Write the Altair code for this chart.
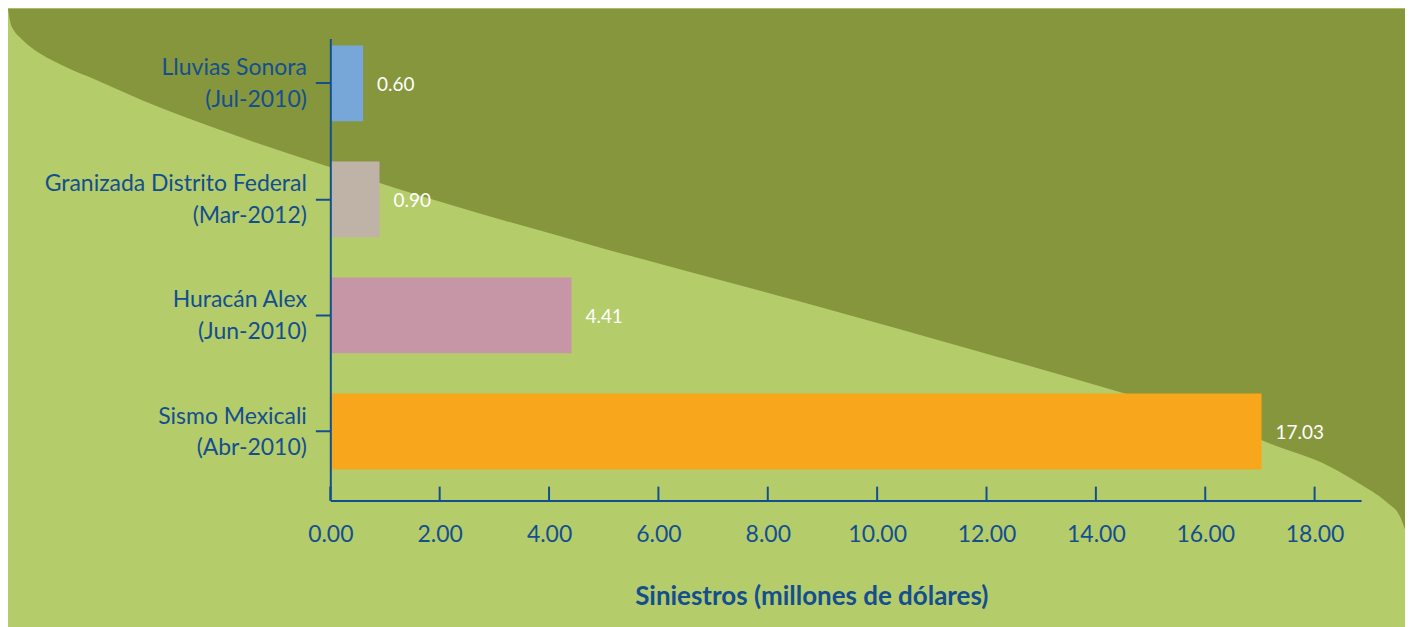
import altair as alt
import pandas as pd

# ---- data ----
eventos = ["Lluvias Sonora", "Granizada Distrito Federal", "Huracán Alex", "Sismo Mexicali"]
fechas = ["(Jul-2010)", "(Mar-2012)", "(Jun-2010)", "(Abr-2010)"]
siniestros = [0.60, 0.90, 4.41, 17.03]
colores = ["#77a6d9", "#bfb2a6", "#c796a6", "#f8a61c"]
x_ticks = [0, 2, 4, 6, 8, 10, 12, 14, 16, 18]

# decorative background shape (fractions of the panel: left->right, top->bottom)
fondo_x = [0.0, 0.0014, 0.0043, 0.0086, 0.0157, 0.0229, 0.0421, 0.0607, 0.0964, 0.1586,
           0.2307, 0.28, 0.4229, 0.5657, 0.7086, 0.8, 0.8514, 0.9036, 0.9464, 0.9707,
           0.9871, 0.9964, 1.0]
fondo_y = [0.0, 0.0194, 0.0355, 0.0468, 0.0614, 0.0727, 0.0953, 0.1131, 0.1486, 0.2019,
           0.2569, 0.2924, 0.3861, 0.4733, 0.5638, 0.6236, 0.6575, 0.7044, 0.7415, 0.7738,
           0.7997, 0.8223, 0.8433]

AZUL = "#134f8f"
VERDE_CLARO = "#b5cc6b"
VERDE_OSCURO = "#86963d"
FUENTE = "Lato"

W, H = 1033, 463
PAD_L, PAD_T, PAD_R, PAD_B = 323, 30, 44, 126

etiquetas = [f"{e}|{f}" for e, f in zip(eventos, fechas)]
df = pd.DataFrame({"etiqueta": etiquetas, "valor": siniestros})
df_ticks = pd.DataFrame({"t": x_ticks})
df_fondo = pd.DataFrame({"fx": fondo_x, "fy": fondo_y, "top": [0.0] * len(fondo_x)})

xscale = alt.Scale(domain=[0, 18.85], nice=False, zero=True)
yscale = alt.Scale(domain=etiquetas, paddingInner=0.347, paddingOuter=0.164, align=0.18)

fondo = alt.Chart(df_fondo).mark_area(color=VERDE_OSCURO, interpolate="monotone").encode(
    x=alt.X("fx:Q", scale=alt.Scale(domain=[0, 1], range=[-PAD_L, W + PAD_R], nice=False, zero=False), axis=None),
    y=alt.Y("fy:Q", scale=alt.Scale(domain=[0, 1], range=[-PAD_T, H + PAD_B], nice=False, zero=False), axis=None),
    y2="top:Q",
)

barras = alt.Chart(df).mark_bar().encode(
    y=alt.Y("etiqueta:N", sort=etiquetas, scale=yscale,
            axis=alt.Axis(title=None, labelExpr="split(datum.label, '|')",
                          labelFont=FUENTE, labelFontSize=23, labelLineHeight=32,
                          labelColor=AZUL, labelLimit=500, labelPadding=9, labelOffset=-15,
                          tickSize=15, tickColor=AZUL, tickWidth=2,
                          domainColor=AZUL, domainWidth=2, zindex=1)),
    x=alt.X("valor:Q", scale=xscale,
            axis=alt.Axis(values=x_ticks, format=".2f", labelFont=FUENTE, labelFontSize=23,
                          labelColor=AZUL, labelPadding=23, labelFlush=False,
                          ticks=False, grid=False, domainColor=AZUL, domainWidth=2,
                          title="Siniestros (millones de dólares)", titleFont=FUENTE,
                          titleFontSize=26, titleFontWeight="bold", titleColor=AZUL,
                          titleX=482, titleY=96, titleAlign="center", titleBaseline="middle",
                          zindex=1)),
    color=alt.Color("etiqueta:N", scale=alt.Scale(domain=etiquetas, range=colores), legend=None),
)

textos = alt.Chart(df).mark_text(align="left", baseline="middle", dx=14, dy=2,
                                 color="white", font=FUENTE, fontSize=19).encode(
    y=alt.Y("etiqueta:N", sort=etiquetas, scale=yscale),
    x=alt.X("valor:Q", scale=xscale),
    text=alt.Text("valor:Q", format=".2f"),
)

marcas = alt.Chart(df_ticks).mark_rule(color=AZUL, strokeWidth=2).encode(
    x=alt.X("t:Q", scale=xscale),
    y=alt.value(H - 14),
    y2=alt.value(H),
)

principal = alt.layer(barras, textos, marcas)

chart = alt.layer(fondo, principal).resolve_scale(x="independent", y="independent").properties(
    width=W, height=H,
    autosize=alt.AutoSizeParams(type="none"),
    padding={"left": PAD_L, "top": PAD_T, "right": PAD_R, "bottom": PAD_B},
    background=VERDE_CLARO,
).configure_view(stroke=None)

chart.save("out.html", embed_options={"renderer": "svg", "actions": False})
